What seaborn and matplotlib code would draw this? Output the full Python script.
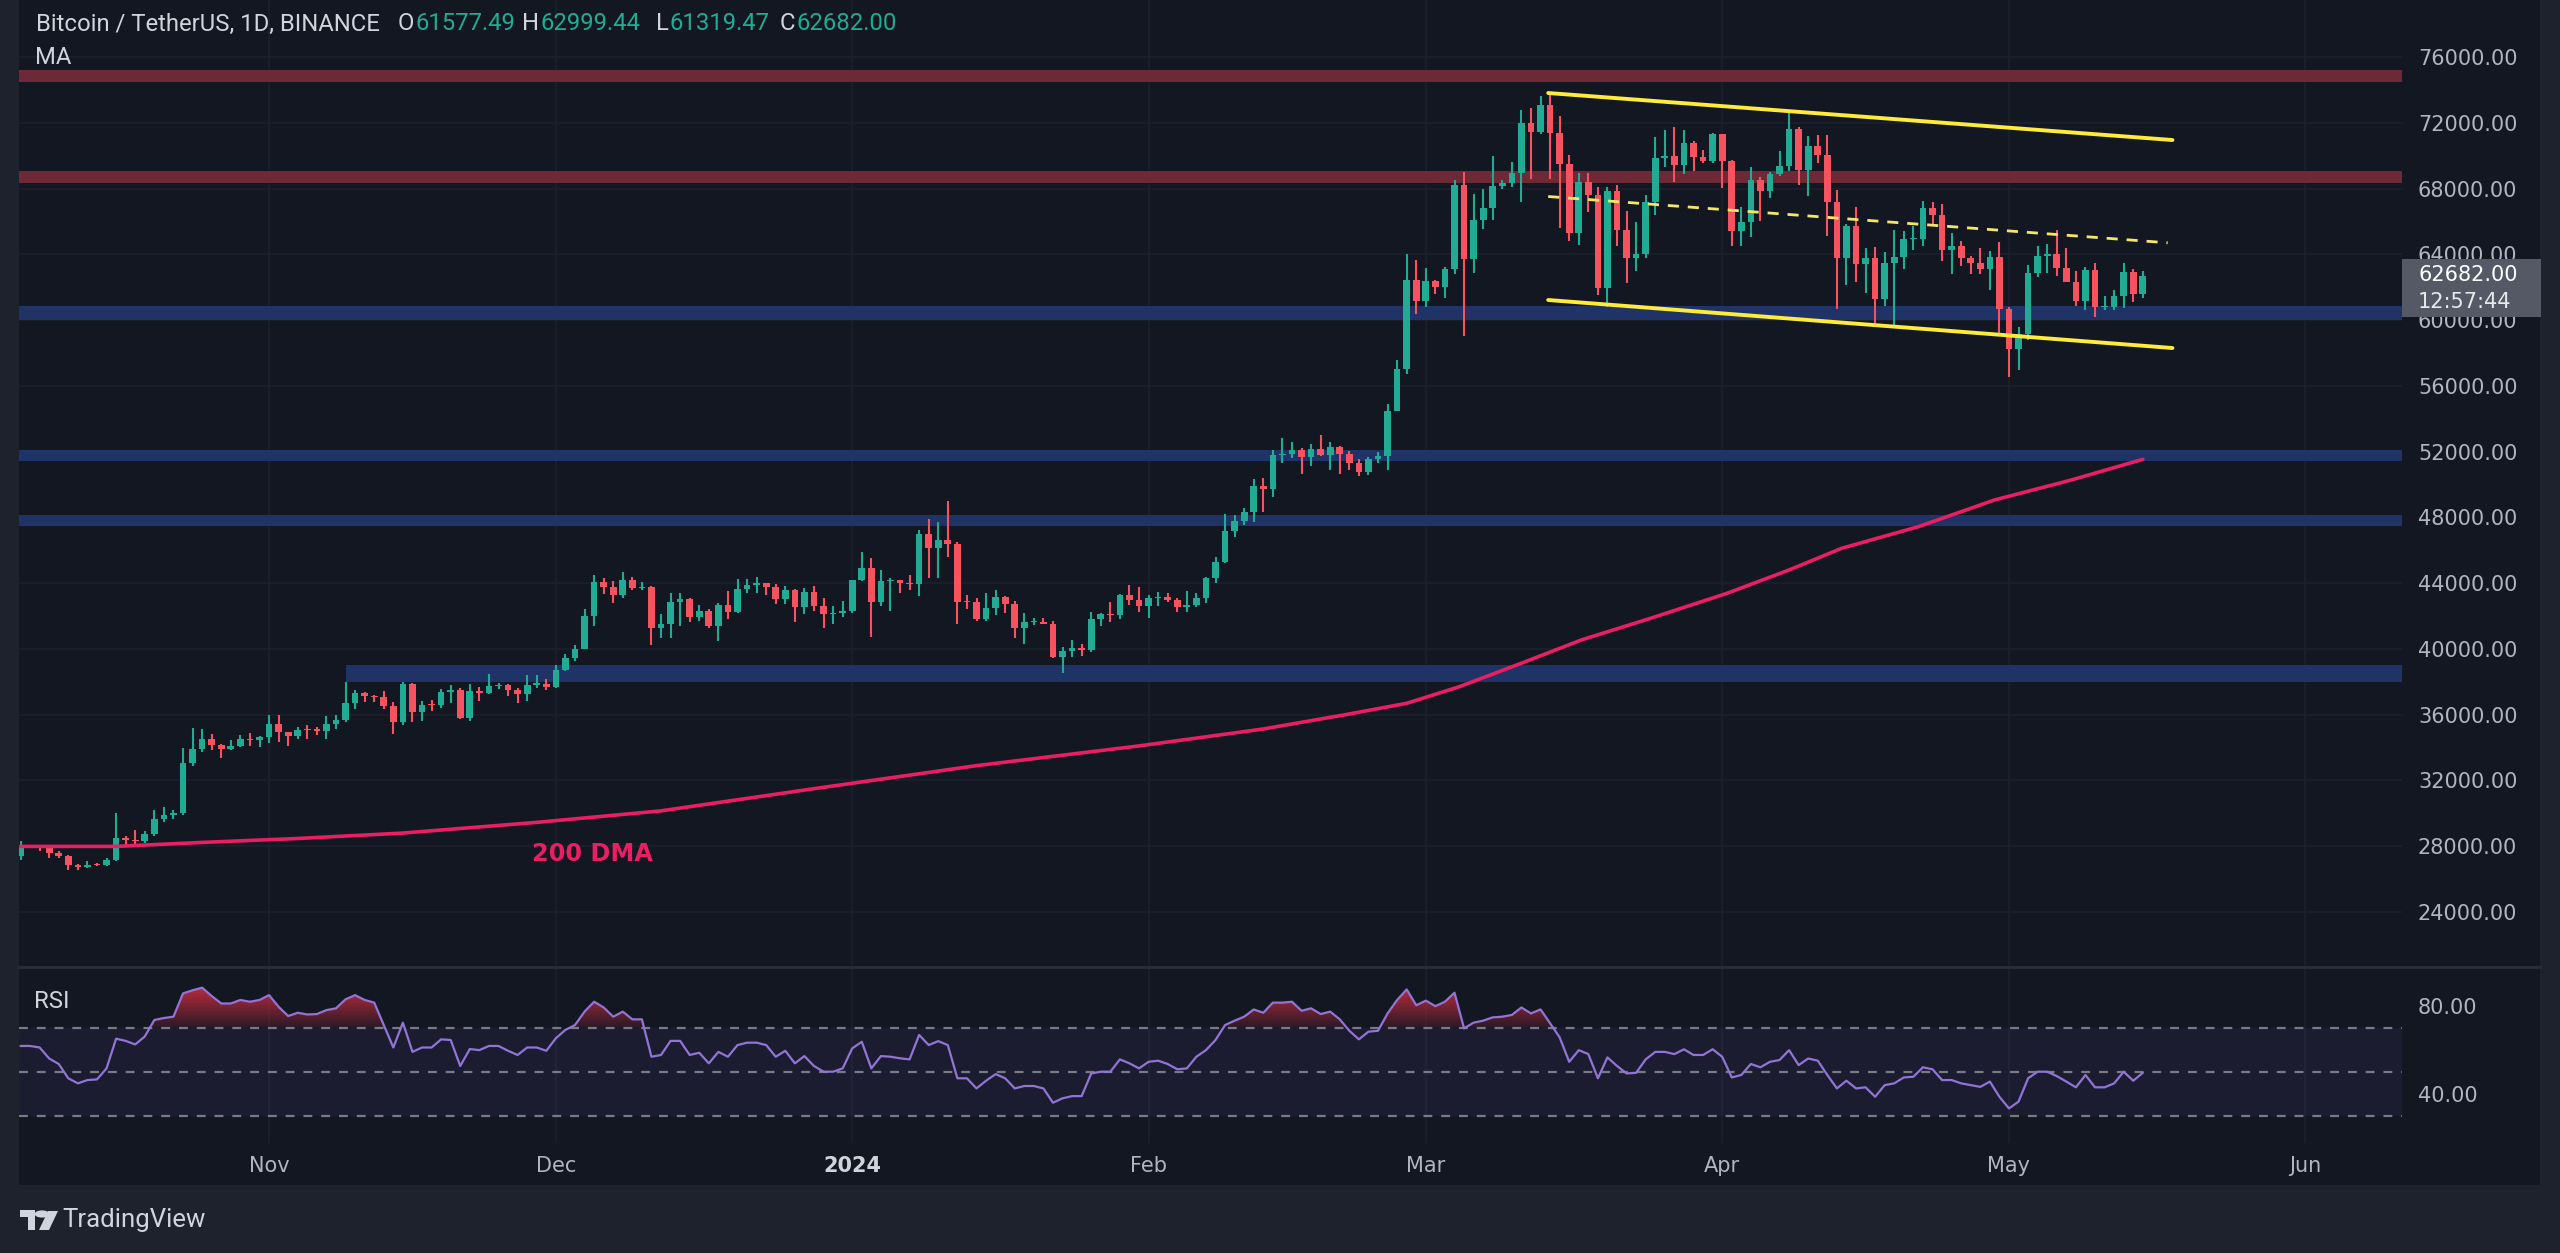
import numpy as np
import pandas as pd
import matplotlib
matplotlib.use("Agg")
import matplotlib.pyplot as plt
import seaborn as sns
from matplotlib.patches import Rectangle, Circle, Polygon
from matplotlib.path import Path

# ------------------------------------------------------------------ data
start_date = "2023-10-06"
first_open = 27410

closes = [
    27931, 27956, 27917, 27590, 27390, 26875, 26756, 26862, 26852, 27154, 28500, 28395, 28320, 28713, 29669, 29910,
    29992, 33070, 33923, 34495, 34151, 33892, 34081, 34525, 34474, 34639,
    35421, 34941, 34732, 35082, 35049, 35037, 35443, 35655, 36693, 37313, 37138, 37055, 36502, 35537, 37880, 36154,
    36596, 36585, 37386, 37476, 35813, 37432, 37289, 37721, 37796, 37479, 37254, 37831, 37859, 37712,
    38688, 39476, 39978, 41980, 44080, 43746, 43293, 44170, 43713, 43789, 41253, 41492, 42869, 43022, 41941, 42278,
    41374, 42657, 42275, 43668, 43861, 43997, 43740, 43016, 43613, 42520, 43442, 42627, 42099, 42156, 42283,
    44179, 44946, 42845, 44151, 44162, 43989, 43943, 46970, 46139, 46627, 46368, 42853, 42842, 41796, 42511, 43154,
    42742, 41262, 41618, 41665, 41545, 39507, 39845, 40077, 39933, 41816, 42120, 42035, 43288, 42952, 42582,
    43075, 43185, 42992, 42576, 42658, 43084, 44318, 45301, 47147, 47751, 48299, 49917, 49699, 51795, 51880, 52124,
    51642, 52137, 51774, 52258, 51849, 51288, 50744, 51568, 51728, 54476, 57037, 62432, 61130,
    62387, 61987, 63113, 68245, 63724, 66074, 66823, 68124, 68313, 68955, 72000, 71452, 73072, 71388, 69499, 65300,
    68393, 67609, 61937, 67840, 65501, 63796, 64037, 67211, 69880, 69987, 69455, 70744, 69892, 69645, 71333,
    69702, 65446, 65980, 68508, 67837, 68896, 69362, 71631, 69139, 70587, 70060, 67195, 63765, 65739, 63419, 63793,
    61277, 63470, 63818, 64940, 64941, 66819, 66414, 64289, 64498, 63770, 63461, 63118, 63866, 60672,
    58254, 59123, 62889, 63891, 64031, 63162, 62334, 61187, 63049, 60792, 60793, 61448, 62901, 61577, 62682,
]
highs = [
    28295, 28055, 28095, 27987, 27735, 27477, 26942, 27104, 26978, 27289, 30000, 28613, 28982, 28916, 30208, 30379,
    30207, 34000, 35198, 35133, 34824, 34245, 34476, 34750, 34856, 34720,
    35985, 35984, 34945, 35250, 35384, 35280, 35892, 35980, 37972, 37526, 37408, 37221, 37430, 36744, 37980, 37926,
    36845, 36865, 37538, 37800, 37650, 37888, 37680, 38450, 37900, 37840, 37600, 38390, 38440, 38160,
    38999, 39700, 40250, 42420, 44490, 44300, 44100, 44700, 44370, 44040, 43800, 42100, 43430, 43420, 43080, 42700,
    42430, 42765, 43500, 44280, 44240, 44400, 44020, 43950, 43800, 43650, 43680, 43800, 43120, 42600, 42900,
    44200, 45900, 45500, 44770, 44340, 44200, 44490, 47250, 47900, 47700, 48970, 46500, 43260, 43080, 43400, 43578,
    43200, 42930, 42200, 41870, 41880, 41700, 40130, 40550, 40290, 42225, 42200, 42840, 43310, 43880, 43740,
    43290, 43480, 43380, 43120, 43530, 43400, 44380, 45600, 48200, 48170, 48590, 50330, 50370, 52080, 52820, 52570,
    52200, 52480, 52980, 52570, 52370, 52060, 51540, 51700, 51960, 54910, 57550, 64000, 63680,
    63150, 62430, 63230, 68500, 69000, 67640, 67990, 69990, 68530, 69590, 72800, 72890, 73650, 73777, 72420, 70044,
    68930, 68930, 68100, 68100, 68240, 66650, 65990, 67620, 71150, 71560, 71770, 71550, 70920, 70360, 71370,
    71340, 69720, 66900, 69290, 68720, 69000, 70280, 72797, 71750, 71170, 71250, 71230, 67930, 65840, 66870, 64360,
    64470, 64120, 65450, 65390, 65700, 67230, 67200, 67070, 65300, 64800, 63910, 64360, 64230, 64730,
    60780, 59600, 63330, 64500, 64650, 65500, 64400, 62990, 63250, 63460, 61490, 61830, 63450, 63100, 62999,
]
lows = [
    27175, 27867, 27711, 27260, 27298, 26538, 26558, 26683, 26815, 26800, 27112, 28069, 28142, 28169, 28600, 29473,
    29663, 29883, 32880, 33700, 33870, 33338, 33861, 34040, 34073, 34057,
    34300, 34346, 34096, 34517, 34530, 34737, 34523, 35110, 35534, 36341, 36754, 36741, 36333, 34800, 35360, 35550,
    35600, 36200, 36390, 36700, 35730, 35632, 36860, 37252, 37580, 37150, 36700, 36860, 37600, 37500,
    37615, 38650, 39290, 39978, 41420, 43340, 42820, 43080, 43590, 43580, 40222, 40680, 40670, 41400, 41666, 41700,
    41250, 40500, 41800, 42180, 43400, 43400, 43300, 42760, 42730, 41650, 42100, 42300, 41300, 41520, 41960,
    42180, 44150, 40750, 42630, 42300, 43400, 43560, 43200, 44300, 44330, 45600, 41500, 42440, 41720, 41720, 42050,
    42200, 40680, 40280, 41430, 41500, 39430, 38555, 39480, 39550, 39800, 41400, 41620, 41800, 42700, 42270,
    41880, 42580, 42880, 42260, 42260, 42560, 42780, 44000, 45240, 46800, 47550, 47710, 48300, 49260, 51300, 51600,
    50620, 51150, 51720, 50900, 50620, 50900, 50500, 50580, 51280, 50900, 54450, 56700, 60350,
    60770, 61600, 61320, 62810, 59005, 62850, 65550, 66060, 67980, 68100, 67200, 68600, 71340, 68555, 65630, 64780,
    64560, 66590, 61500, 60775, 64530, 62260, 63000, 63790, 66380, 69280, 68380, 68900, 69080, 69570, 69570,
    68060, 64500, 64500, 65060, 66000, 67450, 68780, 69040, 68210, 67520, 69560, 65100, 60660, 62130, 62300, 61620,
    59770, 60830, 59600, 63100, 64240, 64500, 65800, 63580, 62800, 63300, 62800, 62800, 61800, 59120,
    56552, 56940, 58800, 62600, 62850, 62700, 62300, 60880, 60630, 60190, 60630, 60620, 60750, 61100, 61319,
]
rsi_values = [
    61.7, 61.7, 61.0, 56.0, 53.5, 47.0, 44.7, 46.2, 46.5, 51.5,
    65.0, 64.0, 62.4, 66.0, 73.5, 74.4, 75.0, 85.6, 87.0, 88.2,
    84.4, 81.0, 81.0, 82.6, 81.8, 82.6, 84.8, 79.5, 75.3, 76.8,
    76.0, 76.2, 78.0, 78.8, 82.9, 84.8, 82.6, 81.4, 71.2, 61.0,
    72.3, 59.0, 61.0, 61.0, 64.7, 64.4, 52.6, 60.3, 59.8, 61.7,
    61.7, 59.5, 57.6, 61.0, 61.0, 59.5, 65.2, 69.0, 71.2, 77.3,
    81.8, 79.2, 75.0, 77.3, 73.8, 73.8, 56.8, 57.6, 64.0, 64.0,
    57.6, 58.6, 53.8, 59.0, 56.8, 62.1, 63.2, 63.2, 62.1, 56.8,
    59.5, 53.8, 57.1, 52.6, 50.0, 50.0, 51.5, 60.6, 63.6, 51.5,
    57.1, 56.8, 56.1, 55.6, 66.7, 62.1, 63.9, 62.1, 47.0, 47.0,
    42.4, 45.9, 48.9, 47.0, 42.4, 43.5, 43.5, 42.4, 35.9, 37.9,
    38.9, 38.9, 49.2, 50.0, 50.0, 55.6, 53.8, 51.5, 54.5, 55.0,
    53.5, 51.1, 51.5, 56.8, 59.8, 64.4, 71.2, 73.2, 75.0, 78.3,
    76.8, 81.4, 81.4, 81.8, 77.7, 78.8, 76.2, 77.3, 73.8, 68.6,
    64.7, 68.2, 68.6, 76.5, 82.6, 87.4, 80.2, 82.3, 79.8, 81.8,
    85.9, 69.7, 72.3, 73.2, 74.7, 75.0, 75.8, 79.2, 76.5, 78.3,
    72.0, 65.6, 54.5, 59.8, 58.0, 47.0, 56.5, 52.6, 49.2, 49.5,
    55.6, 59.0, 59.0, 58.0, 60.2, 57.6, 57.6, 60.2, 56.8, 47.4,
    48.5, 53.5, 52.0, 54.5, 55.3, 59.8, 53.0, 56.0, 55.0, 48.5,
    42.4, 45.9, 42.4, 42.9, 38.6, 43.9, 44.7, 47.4, 47.7, 52.0,
    51.1, 46.2, 46.2, 44.7, 43.9, 43.1, 45.5, 38.6, 33.3, 36.4,
    47.0, 50.0, 50.0, 48.0, 45.5, 42.9, 48.5, 42.9, 42.9, 44.7,
    50.0, 45.9, 49.5,
]
# 200-day moving average, read at points (day index, value)
ma_days = [0, 10, 19, 29, 40, 54, 67, 83, 100, 117, 130, 138.4, 145, 150.5, 157, 163.3, 170.5, 178.5, 185,
           190.5, 198.5, 206.5, 214.5, 222]
ma_values = [27990, 27990, 28230, 28470, 28800, 29450, 30150, 31500, 32900, 34100, 35130, 35980, 36690, 37700,
             39130, 40550, 41860, 43380, 44800, 46120, 47430, 49060, 50270, 51530]

# horizontal support / resistance zones
zone_lows = [74480, 68340, 60000, 51430, 47475, 37990]
zone_highs = [75210, 69070, 60855, 52100, 48150, 39020]
zone_kinds = ["res", "res", "sup", "sup", "sup", "sup"]
zone_start_day = [None, None, None, None, None, 34]

# descending channel (day index, price)
chan_days = [159.8, 225.1]
chan_upper = [73810, 70950]
chan_lower = [61220, 58300]
chan_mid_days = [159.8, 224.6]
chan_mid = [67515, 64700]

price_ticks = [24000, 28000, 32000, 36000, 40000, 44000, 48000, 52000, 56000, 60000, 64000, 68000, 72000, 76000]
rsi_ticks = [80, 40]
rsi_levels = [70, 50, 30]
month_dates = ["2023-11-01", "2023-12-01", "2024-01-01", "2024-02-01", "2024-03-01", "2024-04-01", "2024-05-01",
               "2024-06-01"]
month_labels = ["Nov", "Dec", "2024", "Feb", "Mar", "Apr", "May", "Jun"]

symbol_text = "Bitcoin / TetherUS, 1D, BINANCE"
ohlc_labels = ["O", "H", "L", "C"]
ohlc_values = ["61577.49", "62999.44", "61319.47", "62682.00"]
last_price = "62682.00"
countdown = "12:57:44"

# ------------------------------------------------------------------ style
W, H = 2560, 1253
BG = "#131722"
OUTER = "#1e222d"
UP = "#22ab94"
DOWN = "#f7525f"
TXT = "#b2b5be"
HEAD = "#d1d4dc"
GRID = "#1c202c"
YEL = "#ffeb3b"
PINK = "#e91e63"
RES = "#6e2936"
SUP = "#1f3366"
PURPLE = "#9274d6"

sns.set_theme(style="dark")
plt.rcParams["font.family"] = ["DejaVu Sans"]


def fx(px):
    return px / W


def fy(py):
    return 1 - py / H


fig = plt.figure(figsize=(W / 100, H / 100), dpi=100, facecolor=OUTER)
fig.patches.append(Rectangle((fx(19), fy(1185)), fx(2540 - 19), 1185 / H, transform=fig.transFigure,
                             facecolor=BG, edgecolor="none", zorder=-10))

# px mapping: day index i -> x = 20.5 + 9.56 i ; price p -> y = 57 + (76000 - p) * 0.016442
XL, XR = (19 - 20.5) / 9.56, (2402 - 20.5) / 9.56
YT, YB = 76000 + 57 / 0.016442, 76000 - (966 - 57) / 0.016442

ax = fig.add_axes([fx(19), fy(966), fx(2402 - 19), 966 / H])
ax2 = fig.add_axes([fx(19), fy(1143), fx(2402 - 19), (1143 - 968) / H])
for a in (ax, ax2):
    a.set_facecolor(BG)
    for s in a.spines.values():
        s.set_visible(False)

n = len(closes)
days = np.arange(n)
opens = [first_open] + closes[:-1]
o = np.array(opens, float)
c = np.array(closes, float)
h = np.array(highs, float)
l = np.array(lows, float)
up = c >= o
t0 = pd.Timestamp(start_date)
month_pos = [(pd.Timestamp(d) - t0).days for d in month_dates]

# grid
for a in (ax, ax2):
    for mp in month_pos:
        a.axvline(mp, color=GRID, lw=1.2, zorder=0)
for pt in price_ticks:
    ax.axhline(pt, color=GRID, lw=1.2, zorder=0)

# zones
for lo, hi, kind, st in zip(zone_lows, zone_highs, zone_kinds, zone_start_day):
    x0 = XL if st is None else st
    ax.add_patch(Rectangle((x0, lo), XR + 5 - x0, hi - lo, facecolor=RES if kind == "res" else SUP,
                           edgecolor="none", zorder=1))

# candles
cols = np.where(up, UP, DOWN)
ax.vlines(days, l, h, colors=cols, lw=1.5, zorder=3)
body_lo = np.minimum(o, c)
body_h = np.maximum(np.abs(c - o), 70)
ax.bar(days, body_h, bottom=body_lo, width=0.7, color=cols, edgecolor="none", zorder=4)

# 200 DMA
ma_df = pd.DataFrame({"day": ma_days, "ma": ma_values})
sns.lineplot(data=ma_df, x="day", y="ma", ax=ax, color=PINK, lw=2.6, estimator=None, sort=False, zorder=5)
ax.text((592 - 20.5) / 9.56, 76000 - (854 - 57) / 0.016442, "200 DMA", color=PINK, fontsize=17.3,
        fontweight="bold", ha="center", va="center", zorder=6)

# channel
ax.plot(chan_days, chan_upper, color=YEL, lw=2.8, solid_capstyle="round", zorder=6)
ax.plot(chan_days, chan_lower, color=YEL, lw=2.8, solid_capstyle="round", zorder=6)
ax.plot(chan_mid_days, chan_mid, color="#f3e66a", lw=2.0, dashes=(4, 3.2), zorder=6)

ax.set_xlim(XL, XR)
ax.set_ylim(YB, YT)
ax.set_xticks(month_pos)
ax.tick_params(axis="x", length=0, labelbottom=False)
ax.yaxis.tick_right()
ax.set_yticks(price_ticks)
ax.set_yticklabels([f"{p:.2f}" for p in price_ticks])
ax.tick_params(axis="y", length=0, pad=11.5, labelsize=15, labelcolor=TXT)
ax.set_xlabel("")
ax.set_ylabel("")
ax.grid(False)

# RSI panel
r = np.array(rsi_values)
ax2.axhspan(30, 70, color="#7e57c2", alpha=0.09, lw=0, zorder=0)
for lv in rsi_levels:
    ax2.axhline(lv, color="#787b86", lw=1.6, dashes=(4, 4), zorder=1)
rsi_df = pd.DataFrame({"day": days, "rsi": r})
sns.lineplot(data=rsi_df, x="day", y="rsi", ax=ax2, color=PURPLE, lw=1.6, estimator=None, sort=False, zorder=4)
poly = ax2.fill_between(days, r, 70, where=r >= 70, interpolate=True, facecolor="none", edgecolor="none")
cp = Path.make_compound_path(*poly.get_paths())
grad = np.zeros((256, 1, 4))
grad[..., 0] = 0.82
grad[..., 1] = 0.18
grad[..., 2] = 0.25
grad[..., 3] = np.linspace(0.95, 0.12, 256)[:, None]
im = ax2.imshow(grad, extent=[XL, XR, 70, 90], origin="upper", aspect="auto", zorder=3, interpolation="bilinear")
im.set_clip_path(cp, transform=ax2.transData)

ax2.set_xlim(XL, XR)
ax2.set_ylim(70 - (1143 - 1027.7) / 2.2, 70 + (1027.7 - 968) / 2.2)
ax2.yaxis.tick_right()
ax2.set_yticks(rsi_ticks)
ax2.set_yticklabels([f"{v:.2f}" for v in rsi_ticks])
ax2.tick_params(axis="y", length=0, pad=11.5, labelsize=15, labelcolor=TXT)
ax2.set_xticks(month_pos)
ax2.set_xticklabels(month_labels)
ax2.tick_params(axis="x", length=0, pad=9, labelsize=15, labelcolor=TXT)
for tl in ax2.get_xticklabels():
    if tl.get_text() == "2024":
        tl.set_fontweight("bold")
        tl.set_color(HEAD)
ax2.set_xlabel("")
ax2.set_ylabel("")
ax2.grid(False)

# separator between panels
fig.add_artist(plt.Line2D([fx(19), fx(2540)], [fy(967), fy(967)], transform=fig.transFigure, color="#2a2e39",
                          lw=2))

# header (laid out left to right with measured widths)
HF = ["Roboto", "DejaVu Sans"]
HS = 17.2
renderer = fig.canvas.get_renderer()
fig.text(fx(36), fy(24), symbol_text, color=HEAD, fontsize=HS, family=HF, va="center")
lab_x = [398, 522, 656, 780]
for lab, val, lx in zip(ohlc_labels, ohlc_values, lab_x):
    t = fig.text(fx(lx), fy(24), lab, color=HEAD, fontsize=HS, family=HF, va="center")
    wpx = t.get_window_extent(renderer=renderer).width
    fig.text(fx(lx + wpx + 1), fy(24), val, color=UP, fontsize=HS, family=HF, va="center")
fig.text(fx(35), fy(58), "MA", color=HEAD, fontsize=HS, family=HF, va="center")
fig.text(fx(34), fy(1001), "RSI", color=HEAD, fontsize=HS, family=HF, va="center")

# last price box
fig.patches.append(Rectangle((fx(2402), fy(317)), fx(2541 - 2402), (317 - 259) / H, transform=fig.transFigure,
                             facecolor="#555965", edgecolor="none", zorder=5))
fig.text(fx(2418), fy(275), last_price, color="white", fontsize=15, va="center", zorder=6)
fig.text(fx(2418), fy(302), countdown, color="#e8e9ec", fontsize=15, va="center", zorder=6)

# TradingView logo
LOGO = "#d1d4dc"
fig.patches.append(Rectangle((fx(20), fy(1217)), fx(15), 7 / H, transform=fig.transFigure, facecolor=LOGO,
                             edgecolor="none"))
fig.patches.append(Rectangle((fx(28), fy(1230)), fx(7), 19 / H, transform=fig.transFigure, facecolor=LOGO,
                             edgecolor="none"))
fig.patches.append(Circle((fx(42), fy(1214)), 3.6 / H, transform=fig.transFigure, facecolor=LOGO,
                          edgecolor="none"))
fig.patches.append(Polygon([(fx(48), fy(1211)), (fx(58), fy(1211)), (fx(49), fy(1230)), (fx(39), fy(1230))],
                           closed=True, transform=fig.transFigure, facecolor=LOGO, edgecolor="none"))
fig.text(fx(62), fy(1220), "TradingView", color=LOGO, fontsize=18.5, family=HF, va="center")

fig.savefig("out.png", dpi=100, facecolor=OUTER)
